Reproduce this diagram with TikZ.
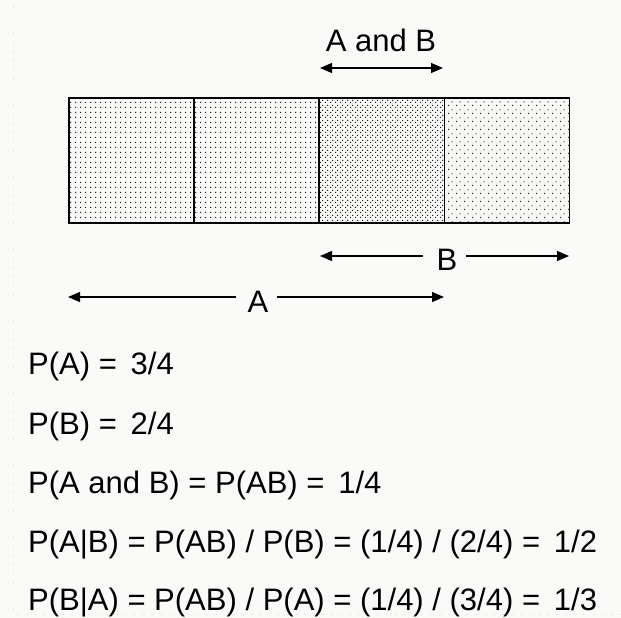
\documentclass[tikz,border=0pt]{standalone}
\usepackage{fontspec}
\setmainfont{Liberation Sans}
\usetikzlibrary{arrows.meta,patterns.meta}
\definecolor{bgc}{RGB}{250,251,249}
\definecolor{gridc}{RGB}{234,236,234}
\tikzdeclarepattern{name=dotsfine, type=uncolored,
  bounding box={(0pt,0pt) and (5pt,5pt)}, tile size={(5pt,5pt)},
  code={\fill (0pt,0pt) rectangle (1.3pt,1.3pt);}}
\tikzdeclarepattern{name=dotsdense, type=uncolored,
  bounding box={(0pt,0pt) and (5pt,5pt)}, tile size={(5pt,5pt)},
  code={\fill (0pt,0pt) rectangle (1.3pt,1.3pt); \fill (2.5pt,2.5pt) rectangle (3.8pt,3.8pt);}}
\tikzdeclarepattern{name=dotssparse, type=uncolored,
  bounding box={(0pt,0pt) and (8pt,8pt)}, tile size={(8pt,8pt)},
  code={\fill (0pt,0pt) rectangle (1.3pt,1.3pt); \fill (4pt,4pt) rectangle (5.3pt,5.3pt);}}
\begin{document}
\begin{tikzpicture}[x=1pt,y=-1pt,
  lbl/.style={inner sep=0pt,font=\fontsize{31}{36}\selectfont,anchor=base},
  eqn/.style={inner sep=0pt,font=\fontsize{31}{36}\selectfont,anchor=base west},
  arr/.style={line width=1.2pt,{Triangle[length=12pt,width=10pt]}-{Triangle[length=12pt,width=10pt]}},
  rarr/.style={line width=1.2pt,-{Triangle[length=12pt,width=10pt]}},
  larr/.style={line width=1.2pt,{Triangle[length=12pt,width=10pt]}-},
  faint/.style={gridc,line width=0.8pt,dash pattern=on 3pt off 6pt}]
\useasboundingbox (0,0) rectangle (621,618);
\fill[bgc] (0,0) rectangle (621,618);
\draw[faint] (13,5) -- (13,614) -- (621,614);
% cells
\fill[pattern=dotsfine,pattern color=black!90] (69,98) rectangle (194,223);
\fill[pattern=dotsfine,pattern color=black!90] (194,98) rectangle (319,223);
\fill[pattern=dotsdense,pattern color=black!90] (319,98) rectangle (444.5,223);
\fill[pattern=dotssparse,pattern color=black!90] (444.5,98) rectangle (569.5,223);
\draw[line width=1.3pt] (69,98) rectangle (569.5,223);
\draw[line width=1.9pt] (194,98) -- (194,223) (319,98) -- (319,223) (444.5,98) -- (444.5,223);
% top label
\node[lbl] (AB) at (381,52) {A and B};
\coordinate (ab1) at (320,68);
\coordinate (ab2) at (443,68);
\draw[arr] (ab1) -- (ab2);
% B label
\node[lbl] (B) at (447,270) {B};
\coordinate (b1) at (320,256);
\coordinate (b2) at (423,256);
\coordinate (b3) at (466,256);
\coordinate (b4) at (569,256);
\draw[larr] (b1) -- (b2);
\draw[rarr] (b3) -- (b4);
% A label
\node[lbl] (A) at (258,312) {A};
\coordinate (a1) at (68,297);
\coordinate (a2) at (236,297);
\coordinate (a3) at (277,297);
\coordinate (a4) at (444,297);
\draw[larr] (a1) -- (a2);
\draw[rarr] (a3) -- (a4);
% equations
\node[eqn] (e1) at (28,374) {P(A) = \,3/4};
\node[eqn] (e2) at (28,434) {P(B) = \,2/4};
\node[eqn] (e3) at (28,493) {P(A and B) = P(AB) = \,1/4};
\node[eqn] (e4) at (28,552) {P(A|B) = P(AB) / P(B) = (1/4) / (2/4) = \,1/2};
\node[eqn] (e5) at (28,610) {P(B|A) = P(AB) / P(A) = (1/4) / (3/4) = \,1/3};
\end{tikzpicture}
\end{document}
